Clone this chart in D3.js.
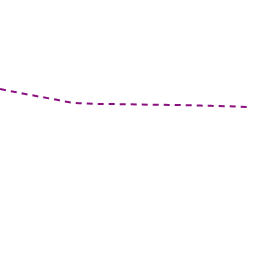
<!DOCTYPE html>
<html>
<head>
<meta charset="utf-8">
<script src="https://cdn.jsdelivr.net/npm/d3@7"></script>
<style>
  html, body { margin: 0; padding: 0; background: #fff; }
</style>
</head>
<body>
<svg id="chart"></svg>
<script>
// data
var steps = [0, 1, 2, 3, 4, 5, 6, 7, 8, 9, 10];
var values = [6.52, 6.33, 6.15, 5.98, 5.94, 5.93, 5.91, 5.90, 5.875, 5.85, 5.81];

(function() {
    var width = 256, height = 256;

    var svg = d3.select("#chart")
        .attr("width", width)
        .attr("height", height);

    var x = d3.scaleLinear().domain([0, 10]).range([0, 251]);
    var y = d3.scaleLinear().domain([0, 10]).range([256, 0]);

    var line = d3.line()
        .x(function(d, i) { return x(steps[i]); })
        .y(function(d) { return y(d); })
        .curve(d3.curveMonotoneX);

    svg.append("path")
        .datum(values)
        .attr("fill", "none")
        .attr("stroke", "#8a1080")
        .attr("stroke-width", 2)
        .attr("stroke-dasharray", "6,5")
        .attr("d", line);
})();
</script>
</body>
</html>
